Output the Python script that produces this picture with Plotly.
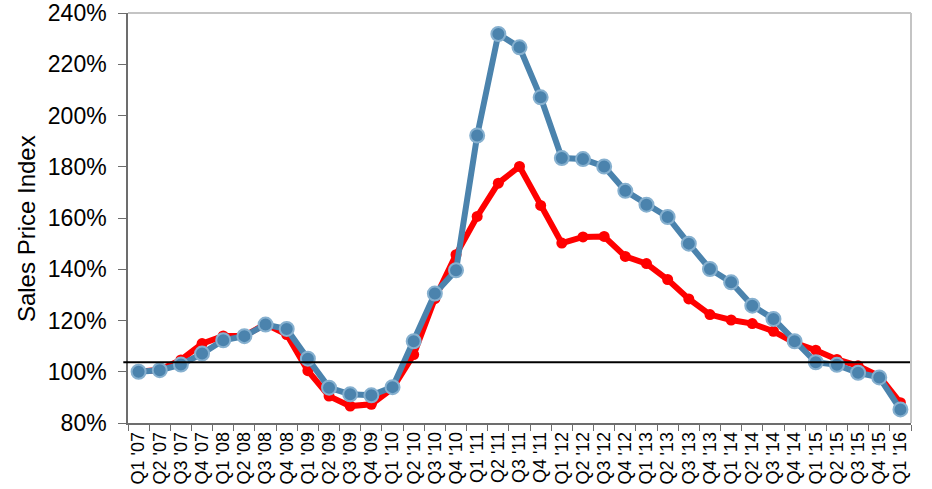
import plotly.graph_objects as go

quarters = ["Q1 '07", "Q2 '07", "Q3 '07", "Q4 '07",
            "Q1 '08", "Q2 '08", "Q3 '08", "Q4 '08",
            "Q1 '09", "Q2 '09", "Q3 '09", "Q4 '09",
            "Q1 '10", "Q2 '10", "Q3 '10", "Q4 '10",
            "Q1 '11", "Q2 '11", "Q3 '11", "Q4 '11",
            "Q1 '12", "Q2 '12", "Q3 '12", "Q4 '12",
            "Q1 '13", "Q2 '13", "Q3 '13", "Q4 '13",
            "Q1 '14", "Q2 '14", "Q3 '14", "Q4 '14",
            "Q1 '15", "Q2 '15", "Q3 '15", "Q4 '15",
            "Q1 '16"]

blue_values = [100.0, 100.6, 102.8, 107.1,
               112.3, 113.9, 118.4, 116.7,
               105.1, 93.8, 91.2, 90.8,
               94.0, 111.9, 130.5, 139.6,
               192.2, 231.8, 226.6, 207.1,
               183.4, 183.0, 180.1, 170.6,
               165.2, 160.4, 150.0, 140.1,
               134.9, 125.8, 120.6, 111.9,
               103.7, 102.7, 99.6, 97.8,
               85.3]

red_values = [100.0, 100.8, 104.6, 111.0,
              114.0, 114.0, 118.6, 114.5,
              100.4, 90.5, 86.6, 87.3,
              93.5, 106.7, 128.5, 145.7,
              160.6, 173.6, 180.1, 164.9,
              150.2, 152.6, 152.8, 145.0,
              142.2, 136.0, 128.4, 122.3,
              120.2, 118.8, 115.8, 111.3,
              108.4, 104.8, 102.3, 98.3,
              87.9]

reference_level = 103.7
y_ticks = [80, 100, 120, 140, 160, 180, 200, 220, 240]
y_tick_labels = ["80%", "100%", "120%", "140%", "160%", "180%", "200%", "220%", "240%"]
y_title = "Sales Price Index"

FONT = "Liberation Sans, Arial, sans-serif"
BLUE = "#4b83ad"
BLUE_EDGE = "#86b0cf"
RED = "#ff0000"
AXIS = "#6d6d6d"

fig = go.Figure()
fig.add_trace(go.Scatter(
    x=quarters, y=red_values, mode="lines+markers",
    line=dict(color=RED, width=6),
    marker=dict(color=RED, size=11, line=dict(width=0)),
    showlegend=False, cliponaxis=False))
fig.add_trace(go.Scatter(
    x=quarters, y=blue_values, mode="lines+markers",
    line=dict(color=BLUE, width=6),
    marker=dict(color=BLUE, size=14, line=dict(color=BLUE_EDGE, width=2)),
    showlegend=False, cliponaxis=False))

fig.add_shape(type="line", xref="paper", yref="y",
              x0=-0.006, x1=1, y0=reference_level, y1=reference_level,
              line=dict(color="black", width=2.2))
# top and right light frame
fig.add_shape(type="line", xref="paper", yref="paper", x0=0, x1=1, y0=1, y1=1,
              line=dict(color="#c4c4c4", width=2))
fig.add_shape(type="line", xref="paper", yref="paper", x0=1, x1=1, y0=0, y1=1,
              line=dict(color="#c4c4c4", width=2))

fig.add_annotation(text=y_title, xref="paper", yref="paper", x=0, y=0.473,
                   xanchor="center", yanchor="middle", xshift=-102, textangle=-90,
                   showarrow=False, font=dict(size=24, family=FONT, color="black"))

fig.update_layout(
    width=932, height=489,
    margin=dict(l=128, r=21, t=13, b=66),
    paper_bgcolor="white", plot_bgcolor="white",
    font=dict(family=FONT, color="black"),
    xaxis=dict(
        type="category", tickangle=-90, tickson="boundaries", automargin=False,
        tickmode="linear", tick0=0, dtick=1, ticklabeloverflow="allow",
        ticks="outside", ticklen=6, tickcolor=AXIS, tickwidth=1.2,
        showline=True, linecolor=AXIS, linewidth=1.5,
        showgrid=False, zeroline=False,
        tickfont=dict(size=18, family=FONT, color="black"),
        range=[-0.5, len(quarters) - 0.5],
    ),
    yaxis=dict(
        range=[80, 240], tickmode="array", tickvals=y_ticks, ticktext=y_tick_labels,
        automargin=False, ticklabeloverflow="allow",
        ticks="outside", ticklen=8, tickcolor=AXIS, tickwidth=1.2,
        showline=True, linecolor=AXIS, linewidth=1.5,
        showgrid=False, zeroline=False,
        tickfont=dict(size=23, family=FONT, color="black"),
        ticklabelstandoff=7,
    ),
)

fig.write_html("out.html", config={"displayModeBar": False},
               post_script="document.body.style.margin='0px';")
